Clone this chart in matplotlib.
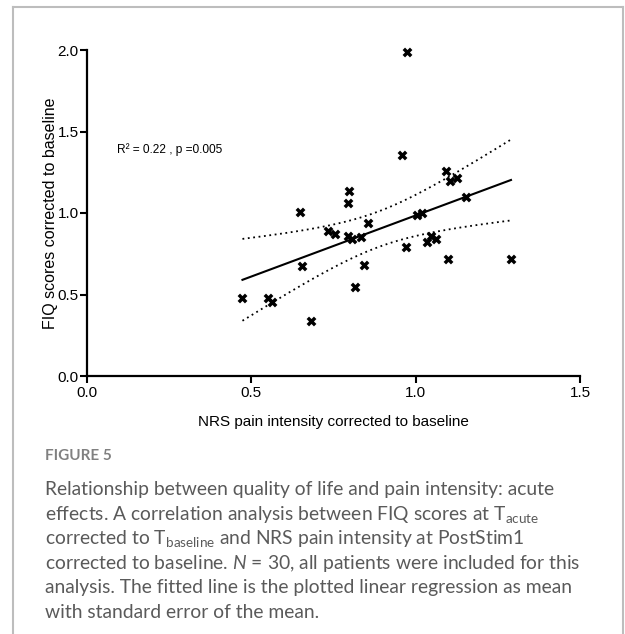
import numpy as np
import matplotlib
matplotlib.use("Agg")
import matplotlib.pyplot as plt
from matplotlib.lines import Line2D

# ---- data ----
nrs = [0.473, 0.550, 0.564, 0.648, 0.653, 0.683, 0.734, 0.754, 0.793, 0.793,
       0.798, 0.807, 0.815, 0.833, 0.843, 0.856, 0.959, 0.970, 0.974, 1.005,
       1.019, 1.033, 1.047, 1.063, 1.092, 1.099, 1.104, 1.127, 1.153, 1.290]
fiq = [0.477, 0.480, 0.454, 1.008, 0.677, 0.337, 0.889, 0.869, 0.859, 1.060,
       1.137, 0.840, 0.548, 0.852, 0.683, 0.938, 1.356, 0.790, 1.986, 0.986,
       0.998, 0.822, 0.859, 0.838, 1.260, 0.720, 1.196, 1.215, 1.100, 0.720]
xticks = [0.0, 0.5, 1.0, 1.5]
yticks = [0.0, 0.5, 1.0, 1.5, 2.0]
annot = "R\u00b2 = 0.22 , p =0.005"
xlabel = "NRS pain intensity corrected to baseline"
ylabel = "FIQ scores corrected to baseline"
fig_label = "FIGURE 5"
caption_lines = [
    "Relationship between quality of life and pain intensity: acute",
    r"effects. A correlation analysis between FIQ scores at T$_{\mathrm{acute}}$",
    r"corrected to T$_{\mathrm{baseline}}$ and NRS pain intensity at PostStim1",
    r"corrected to baseline. $\mathit{N}$ = 30, all patients were included for this",
    "analysis. The fitted line is the plotted linear regression as mean",
    "with standard error of the mean.",
]
T_CRIT = 2.048  # two-sided 95% t, df = 28

plt.rcParams['mathtext.fontset'] = 'custom'
plt.rcParams['mathtext.rm'] = 'Lato'
plt.rcParams['mathtext.it'] = 'Lato:italic'

W, H = 625, 634
fig = plt.figure(figsize=(W / 100, H / 100), dpi=100)
fig.patch.set_facecolor('white')

# grey frame around the figure panel
gc = '#bdbdbd'
fig.add_artist(Line2D([12.5 / W, 12.5 / W], [0, 1 - 7 / H], color=gc, lw=1.5, transform=fig.transFigure))
fig.add_artist(Line2D([12.5 / W, 623 / W], [1 - 7 / H, 1 - 7 / H], color=gc, lw=1.5, transform=fig.transFigure))
fig.add_artist(Line2D([623 / W, 623 / W], [0, 1 - 7 / H], color=gc, lw=1.5, transform=fig.transFigure))

ax = fig.add_axes([87 / W, 1 - 376 / H, (580 - 87) / W, (376 - 50) / H])
font = 'Liberation Sans'

x = np.array(nrs)
y = np.array(fiq)
n = len(x)
b1, b0 = np.polyfit(x, y, 1)
xs = np.linspace(x.min(), x.max(), 200)
ys = b0 + b1 * xs
resid = y - (b0 + b1 * x)
s = np.sqrt(np.sum(resid ** 2) / (n - 2))
sxx = np.sum((x - x.mean()) ** 2)
half = T_CRIT * s * np.sqrt(1 / n + (xs - x.mean()) ** 2 / sxx)

ax.plot(xs, ys, color='black', lw=1.5)
ax.plot(xs, ys + half, color='black', lw=1.3, ls=(0, (1, 2)))
ax.plot(xs, ys - half, color='black', lw=1.3, ls=(0, (1, 2)))
ax.scatter(x, y, marker='X', s=50, color='black', linewidths=0, zorder=3, clip_on=False)

ax.set_xlim(0, 1.5)
ax.set_ylim(0, 2.0)
ax.set_xticks(xticks)
ax.set_yticks(yticks)
ax.set_xticklabels([f"{v:.1f}" for v in xticks], fontname=font, fontsize=11)
ax.set_yticklabels([f"{v:.1f}" for v in yticks], fontname=font, fontsize=11)
for sp in ['top', 'right']:
    ax.spines[sp].set_visible(False)
for sp in ['left', 'bottom']:
    ax.spines[sp].set_linewidth(1.6)
ax.tick_params(direction='out', length=5, width=1.5, pad=1, colors='black')
ax.tick_params(axis='x', pad=2)
ax.set_xlabel(xlabel, fontname=font, fontsize=11, labelpad=11)
ax.set_ylabel(ylabel, fontname=font, fontsize=11.5, labelpad=0)
ax.text(0.09, 1.386, annot, fontname=font, fontsize=8.6, va='center', ha='left')

# caption
fig.text(45 / W, 1 - 456 / H, fig_label, fontname='Lato', fontsize=11, color='#808080',
         fontweight='bold', va='center', ha='left')
y0 = 490
dy = 24.4
for i, line in enumerate(caption_lines):
    fig.text(45 / W, 1 - (y0 + i * dy) / H, line, fontname='Lato', fontsize=13.9,
             color='#5a5a5a', va='center', ha='left')

fig.savefig('out.png', dpi=100, facecolor='white')
